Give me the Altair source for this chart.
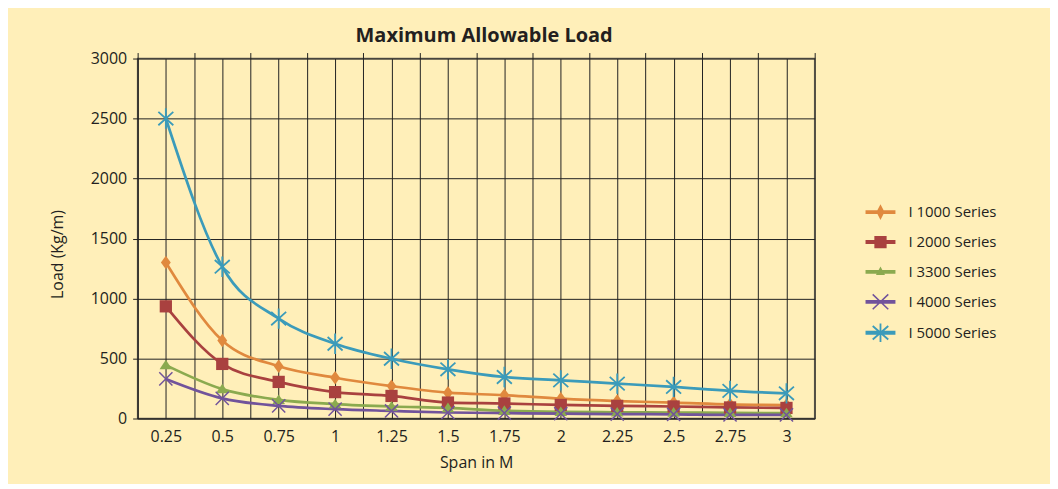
import math
import altair as alt
import pandas as pd

spans = [0.25, 0.5, 0.75, 1, 1.25, 1.5, 1.75, 2, 2.25, 2.5, 2.75, 3]
series = ["I 1000 Series", "I 2000 Series", "I 3300 Series", "I 4000 Series", "I 5000 Series"]
i1000 = [1300, 650, 435, 340, 270, 215, 195, 165, 145, 133, 118, 112]
i2000 = [935, 455, 305, 220, 188, 133, 125, 113, 105, 100, 92, 88]
i3300 = [445, 245, 155, 120, 100, 88, 65, 55, 52, 50, 47, 45]
i4000 = [330, 168, 105, 78, 63, 50, 45, 40, 37, 35, 30, 30]
i5000 = [2500, 1265, 833, 623, 498, 410, 346, 318, 291, 263, 230, 210]
y_ticks = [0, 500, 1000, 1500, 2000, 2500, 3000]
x_grid = [0.125 * k for k in range(1, 26)]
x_bounds = [0.125 + 0.25 * k for k in range(13)]

colors = ["#E0893E", "#A9413F", "#8BAA4F", "#71539B", "#3B9BBA"]


# ---- marker geometry (unit symbol space, 1 unit = 15 px at size 900) ----
def poly(pts):
    area = sum(pts[i][0] * pts[(i + 1) % len(pts)][1] - pts[(i + 1) % len(pts)][0] * pts[i][1]
               for i in range(len(pts)))
    if area < 0:
        pts = pts[::-1]
    return "M" + "L".join(f"{x:.3f},{y:.3f}" for x, y in pts) + "Z"


def seg(x1, y1, x2, y2, t):
    dx, dy = x2 - x1, y2 - y1
    n = math.hypot(dx, dy)
    px, py = -dy / n * t, dx / n * t
    return poly([(x1 + px, y1 + py), (x2 + px, y2 + py), (x2 - px, y2 - py), (x1 - px, y1 - py)])


def diamond(w, h):
    return poly([(0, -h), (w, 0), (0, h), (-w, 0)])


def square(s):
    return poly([(-s, -s), (s, -s), (s, s), (-s, s)])


def triangle(w, top, bot):
    return poly([(0, top), (w, bot), (-w, bot)])


def xmark(w, h, t):
    return seg(-w, -h, w, h, t) + seg(-w, h, w, -h, t)


def star(w, h, v, t):
    return xmark(w, h, t) + seg(0, -v, 0, v, t)


plot_shapes = [
    diamond(0.33, 0.45),
    square(0.41),
    triangle(0.42, -0.36, 0.28),
    xmark(0.44, 0.44, 0.05),
    star(0.5, 0.45, 0.68, 0.06),
]
legend_line = seg(-1, 0, 1, 0, 0.13)
legend_shapes = [
    legend_line + diamond(0.27, 0.53),
    legend_line + square(0.41),
    legend_line + triangle(0.3, -0.36, 0.2),
    legend_line + xmark(0.52, 0.5, 0.05),
    legend_line + star(0.52, 0.45, 0.62, 0.06),
]

rows = []
for name, vals in zip(series, [i1000, i2000, i3300, i4000, i5000]):
    for s, v in zip(spans, vals):
        rows.append({"span": s, "series": name, "load": v})
df = pd.DataFrame(rows)

FONT = "Open Sans"
TXT = "#231f20"

x_scale = alt.Scale(domain=[0.125, 3.125], nice=False, zero=False)
y_scale = alt.Scale(domain=[0, 3000], nice=False)
color_scale = alt.Scale(domain=series, range=colors)

y_axis = alt.Axis(values=y_ticks, format="d", title="Load (Kg/m)", grid=True,
                  gridColor="#222222", gridOpacity=1, gridWidth=1, tickSize=5,
                  tickColor="#222222", domainColor="#222222", labelPadding=6,
                  labelFontSize=16, labelFont=FONT, labelColor=TXT, titleFont=FONT,
                  titleFontSize=16, titleFontWeight="normal", titleColor=TXT,
                  titleX=-72, titleY=196)

base = alt.Chart(df)

lines = base.mark_line(strokeWidth=2.7, interpolate="monotone").encode(
    x=alt.X("span:Q", scale=x_scale,
            axis=alt.Axis(values=x_grid, grid=True, gridColor="#222222", gridOpacity=1,
                          ticks=False, domainColor="#222222",
                          labelExpr="round(datum.value*8) % 2 == 0 ? toString(datum.value) : ''",
                          labelOverlap=False, labelPadding=10, labelFontSize=16,
                          labelFont=FONT, labelColor=TXT, title="Span in M",
                          titleFont=FONT, titleFontSize=16, titleFontWeight="normal",
                          titleColor=TXT, titlePadding=10)),
    y=alt.Y("load:Q", scale=y_scale, axis=y_axis),
    color=alt.Color("series:N", scale=color_scale, legend=None),
    detail="series:N",
)

points = base.mark_point(filled=True, size=900, opacity=1, strokeWidth=0).encode(
    x=alt.X("span:Q", scale=x_scale,
            axis=alt.Axis(values=x_bounds, grid=False, ticks=True, tickSize=6,
                          tickColor="#222222", labels=False, domain=False, title=None)),
    y=alt.Y("load:Q", scale=y_scale, axis=y_axis),
    color=alt.Color("series:N", scale=color_scale, legend=None),
    shape=alt.Shape("series:N", scale=alt.Scale(domain=series, range=plot_shapes),
                    legend=None),
)

leg = dict(orient="none", legendX=730, legendY=139, title=None, symbolSize=900,
           labelFont=FONT, labelFontSize=15, labelColor=TXT, rowPadding=7, padding=0,
           labelOffset=13, symbolStrokeWidth=0)

legend_layer = base.transform_filter("false").mark_point(
    filled=True, size=900, opacity=1, strokeWidth=0
).encode(
    x=alt.X("span:Q", scale=x_scale, axis=None),
    y=alt.Y("load:Q", scale=y_scale, axis=y_axis),
    color=alt.Color("series:N", scale=color_scale, legend=alt.Legend(**leg)),
    shape=alt.Shape("series:N", scale=alt.Scale(domain=series, range=legend_shapes),
                    legend=alt.Legend(**leg)),
)

chart = alt.layer(lines, points, legend_layer).resolve_axis(
    x="independent"
).resolve_scale(shape="independent").resolve_legend(
    color="independent", shape="independent"
).properties(
    width=679, height=361,
    title=alt.Title("Maximum Allowable Load", font=FONT, fontSize=20, fontWeight="bold",
                    color=TXT, offset=5, dx=8),
    background="#FFEFB9",
    autosize=alt.AutoSizeParams(type="none"),
    padding={"left": 130, "top": 50, "right": 236, "bottom": 65},
).configure_view(stroke="#6b6658", strokeWidth=1.5)

chart.save("out.html", embed_options={"renderer": "svg", "actions": False})
